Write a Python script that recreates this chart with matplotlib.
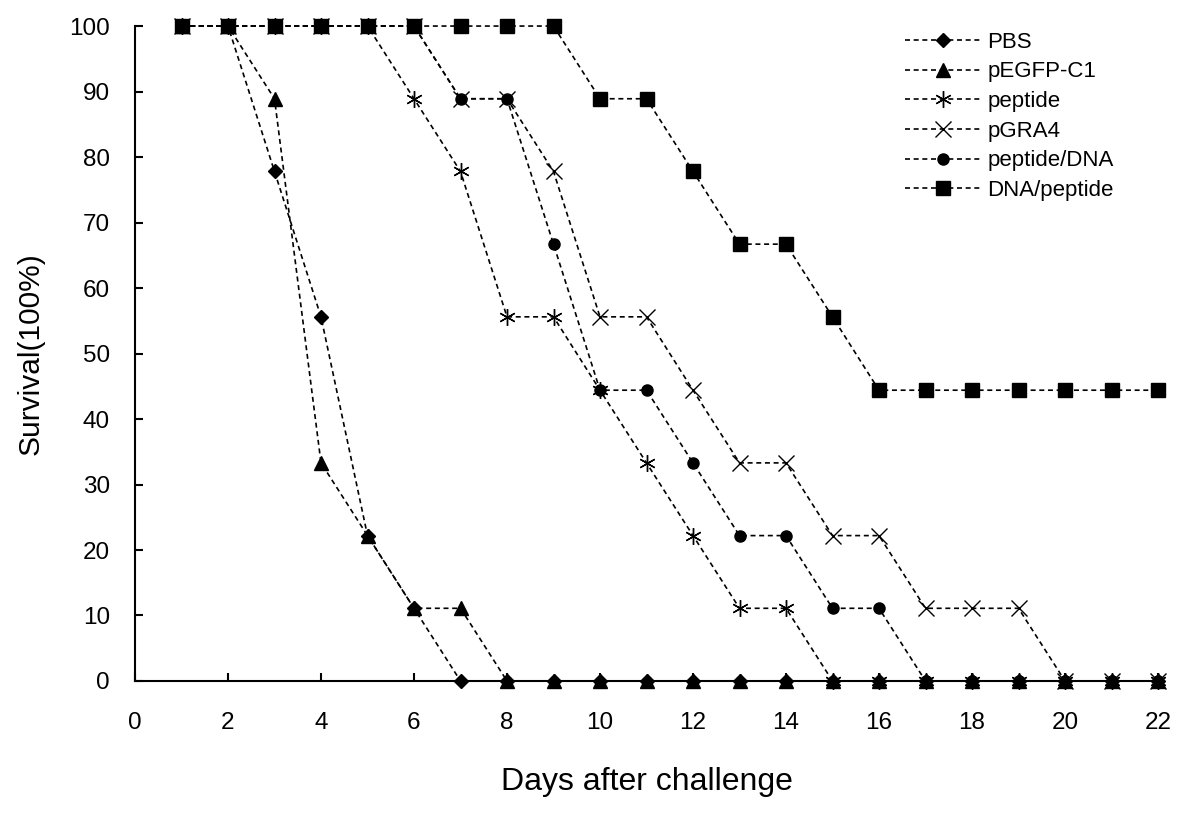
import matplotlib
matplotlib.use('Agg')
import matplotlib.pyplot as plt

plt.rcParams['font.family'] = ['Liberation Sans', 'DejaVu Sans']

days = list(range(1, 23))

# survival in percent, 9 mice per group
pbs = [100, 100, 77.8, 55.6, 22.2, 11.1, 0, 0, 0, 0, 0, 0, 0, 0, 0, 0, 0, 0, 0, 0, 0, 0]
pegfp = [100, 100, 88.9, 33.3, 22.2, 11.1, 11.1, 0, 0, 0, 0, 0, 0, 0, 0, 0, 0, 0, 0, 0, 0, 0]
peptide = [100, 100, 100, 100, 100, 88.9, 77.8, 55.6, 55.6, 44.4, 33.3, 22.2, 11.1, 11.1,
           0, 0, 0, 0, 0, 0, 0, 0]
pgra4 = [100, 100, 100, 100, 100, 100, 88.9, 88.9, 77.8, 55.6, 55.6, 44.4, 33.3, 33.3,
         22.2, 22.2, 11.1, 11.1, 11.1, 0, 0, 0]
peptide_dna = [100, 100, 100, 100, 100, 100, 88.9, 88.9, 66.7, 44.4, 44.4, 33.3, 22.2, 22.2,
               11.1, 11.1, 0, 0, 0, 0, 0, 0]
dna_peptide = [100, 100, 100, 100, 100, 100, 100, 100, 100, 88.9, 88.9, 77.8, 66.7, 66.7,
               55.6, 44.4, 44.4, 44.4, 44.4, 44.4, 44.4, 44.4]

labels = ['PBS', 'pEGFP-C1', 'peptide', 'pGRA4', 'peptide/DNA', 'DNA/peptide']
series = [pbs, pegfp, peptide, pgra4, peptide_dna, dna_peptide]
markers = ['D', '^', (6, 2, 0), 'x', 'o', 's']
sizes = [7, 10, 12, 11, 8, 10]

fig = plt.figure(figsize=(12, 8.14), dpi=100)
ax = fig.add_axes([0.1125, 0.1634, 0.8525, 0.8046])

for vals, lab, m, ms in zip(series, labels, markers, sizes):
    ax.plot(days, vals, color='black', linestyle=(0, (3, 2.2)), linewidth=1.2,
            marker=m, markersize=ms, markerfacecolor='black', markeredgecolor='black',
            markeredgewidth=1.0, label=lab, clip_on=False)

ax.set_xlim(0, 22)
ax.set_ylim(0, 100)
ax.set_xticks(range(0, 23, 2))
ax.set_yticks(range(0, 101, 10))
ax.spines['top'].set_visible(False)
ax.spines['right'].set_visible(False)
ax.spines['left'].set_linewidth(1.5)
ax.spines['bottom'].set_linewidth(1.5)
ax.tick_params(axis='x', direction='in', length=6, width=1.5, pad=22, labelsize=17.5)
ax.tick_params(axis='y', direction='in', length=6, width=1.5, pad=18, labelsize=17.5)

ax.set_xlabel('Days after challenge', fontsize=23, labelpad=24)
ax.set_ylabel('Survival(100%)', fontsize=21.5, labelpad=18)

ax.legend(loc='upper right', bbox_to_anchor=(0.972, 1.015), frameon=False, fontsize=16,
          handlelength=3.4, labelspacing=0.39, handletextpad=0.3, borderaxespad=0.3)

fig.savefig('out.png', dpi=100)
